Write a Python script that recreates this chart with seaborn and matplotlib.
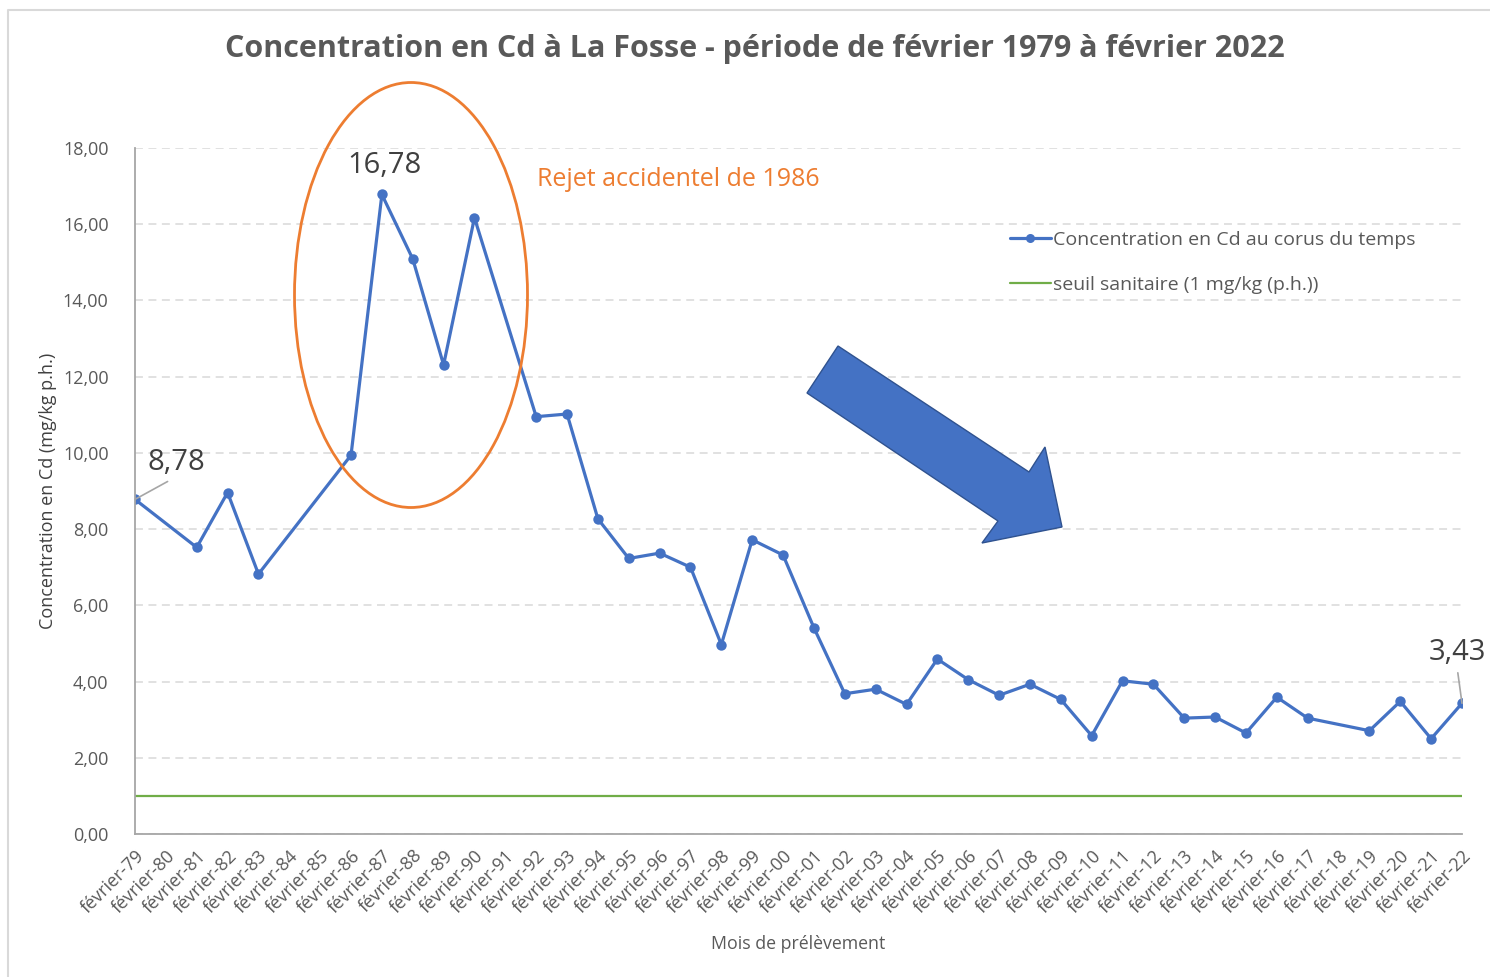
import matplotlib
matplotlib.use("Agg")
import matplotlib.pyplot as plt
import matplotlib.patches as mpatches
from matplotlib.lines import Line2D
import numpy as np
import pandas as pd
import seaborn as sns

# --- données ---
annees = ["79", "80", "81", "82", "83", "84", "85", "86", "87", "88", "89", "90",
          "91", "92", "93", "94", "95", "96", "97", "98", "99", "00", "01", "02",
          "03", "04", "05", "06", "07", "08", "09", "10", "11", "12", "13", "14",
          "15", "16", "17", "18", "19", "20", "21", "22"]
mois = [f"février-{a}" for a in annees]

concentration_cd = [8.78, None, 7.52, 8.96, 6.82, None, None, 9.94, 16.78, 15.09,
                    12.31, 16.17, None, 10.95, 11.02, 8.27, 7.23, 7.37, 7.00, 4.97,
                    7.72, 7.32, 5.41, 3.68, 3.80, 3.40, 4.59, 4.05, 3.64, 3.93,
                    3.53, 2.58, 4.02, 3.93, 3.04, 3.07, 2.65, 3.59, 3.04, None,
                    2.71, 3.48, 2.50, 3.43]
seuil_sanitaire = 1.0

y_ticks = [0, 2, 4, 6, 8, 10, 12, 14, 16, 18]
etiquettes_valeurs = {"79": "8,78", "87": "16,78", "22": "3,43"}

BLEU = "#4472C4"
VERT = "#70AD47"
ORANGE = "#ED7D31"
GRIS_TEXTE = "#595959"

sns.set_theme(style="white")
plt.rcParams["font.family"] = ["Open Sans", "DejaVu Sans"]

df = pd.DataFrame({"pos": np.arange(len(mois)), "mois": mois, "cd": concentration_cd})
df_mesures = df.dropna(subset=["cd"])

W, H = 1490, 977
fig = plt.figure(figsize=(W / 100, H / 100), dpi=100)
ax = fig.add_axes([135 / W, 1 - 834 / H, (1462 - 135) / W, (834 - 148) / H])

sns.lineplot(data=df_mesures, x="pos", y="cd", ax=ax, color=BLEU, lw=2.3,
             marker="o", markersize=7.5, markeredgewidth=0, sort=True)
ax.plot(df["pos"], [seuil_sanitaire] * len(df), color=VERT, lw=1.6)

ax.set_xlim(0, len(mois) - 1)
ax.set_ylim(y_ticks[0], y_ticks[-1])
ax.set_xticks(df["pos"])
ax.set_xticklabels(mois, rotation=45, ha="right", va="top", rotation_mode="anchor",
                   fontsize=13, color=GRIS_TEXTE)
ax.set_yticks(y_ticks)
ax.set_yticklabels([f"{v:.2f}".replace(".", ",") for v in y_ticks],
                   fontsize=13, color=GRIS_TEXTE)
ax.tick_params(axis="both", direction="out", length=5, width=1.2, color="#A6A6A6")
ax.tick_params(axis="y", pad=14)
ax.tick_params(axis="x", pad=4)

ax.yaxis.grid(True, color="#D9D9D9", linestyle=(0, (5.2, 3.6)), linewidth=1.1)
ax.set_axisbelow(True)
for s in ["top", "right"]:
    ax.spines[s].set_visible(False)
for s in ["left", "bottom"]:
    ax.spines[s].set_color("#A6A6A6")
    ax.spines[s].set_linewidth(1.3)

ax.set_xlabel("Mois de prélèvement", fontsize=12.8, color=GRIS_TEXTE, va="center")
ax.xaxis.set_label_coords(0.4996, (834 - 944) / 686)
ax.set_ylabel("Concentration en Cd (mg/kg p.h.)", fontsize=13, color="#404040", va="center")
ax.yaxis.set_label_coords((48 - 135) / 1327, 0.50)

# étiquettes de valeurs
decalages = {"79": (41, 37), "87": (3, 29), "22": (-5, 51)}
for an, txt in etiquettes_valeurs.items():
    ligne = df[df["mois"] == f"février-{an}"].iloc[0]
    props = None
    if an != "87":
        props = dict(arrowstyle="-", color="#A6A6A6", lw=1.2, relpos=(0.5, 0.0),
                     shrinkA=2, shrinkB=0)
    ax.annotate(txt, xy=(ligne["pos"], ligne["cd"]), xytext=decalages[an],
                textcoords="offset pixels", ha="center", va="center",
                fontsize=21, color="#404040", arrowprops=props)

handles = [Line2D([], [], color=BLEU, lw=2.3, marker="o", markersize=6.5, markeredgewidth=0),
           Line2D([], [], color=VERT, lw=1.6)]
fig.legend(handles, ["Concentration en Cd au corus du temps", "seuil sanitaire (1 mg/kg (p.h.))"],
           loc="upper left", bbox_to_anchor=(1010 / W, 1 - 231 / H), frameon=False,
           fontsize=14, handlelength=2.1, handletextpad=0.1, labelspacing=1.4,
           borderpad=0, borderaxespad=0, labelcolor=GRIS_TEXTE)

fig.text(755 / W, 1 - 49 / H,
         "Concentration en Cd à La Fosse - période de février 1979 à février 2022",
         ha="center", va="center", fontsize=22, fontweight="bold", color=GRIS_TEXTE)

# calque pour les formes dessinées (ellipse, flèche, cadre)
over = fig.add_axes([0, 0, 1, 1], zorder=5)
over.set_xlim(0, W)
over.set_ylim(H, 0)
over.axis("off")
over.patch.set_alpha(0)

over.add_patch(mpatches.Ellipse((411, 295), 233, 425, fill=False, edgecolor=ORANGE, lw=2))
over.text(537, 179, "Rejet accidentel de 1986", ha="left", va="center",
          fontsize=18, color=ORANGE)
fleche = [(838, 346), (1029, 472), (1045, 447), (1062, 527), (982, 543), (998, 521), (807, 393)]
over.add_patch(mpatches.Polygon(fleche, closed=True, facecolor=BLEU, edgecolor="#2F528F", lw=1))
over.plot([8, 8, W], [H, 10, 10], color="#D9D9D9", lw=1.5)

fig.savefig("out.png", dpi=100)
